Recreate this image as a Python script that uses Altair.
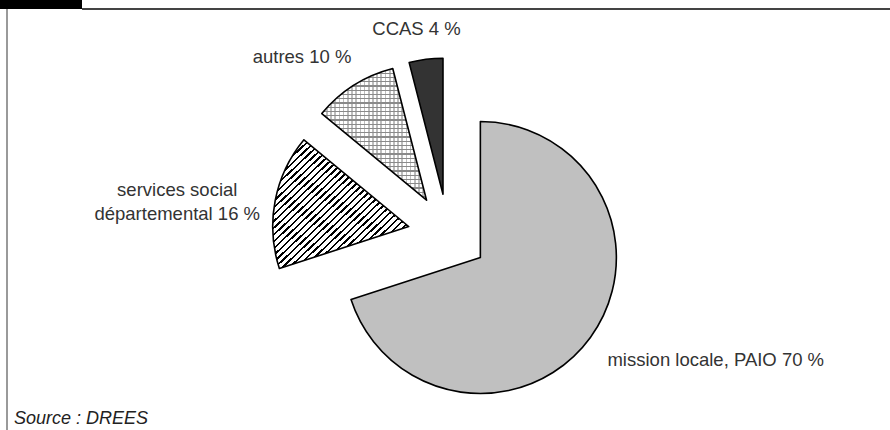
import math
import altair as alt
import pandas as pd

# Exploded pie: who directed the young people (share of answers, %)
names = ["mission locale, PAIO", "services social départemental", "autres", "CCAS"]
labels = ["mission locale, PAIO 70 %", "services social\ndépartemental 16 %", "autres 10 %", "CCAS 4 %"]
shares = [70, 16, 10, 4]
source_note = "Source : DREES"

# fills for each slice (hatched ones get a white base, texture drawn on top)
fills = ["#c0c0c0", "#ffffff", "#ffffff", "#333333"]

W, H = 890, 430
R = 136            # pie radius, px
EXPLODE = 40       # radial shift of every slice, px
LABEL_R = 155      # distance of labels from a slice's centre, px
CX, CY = 3, -19    # pie centre relative to the middle of the view (y up), px
FONT = "Liberation Sans, Arial, sans-serif"
FS = 18.5
CHAR_W = 8.8       # rough average glyph width used to keep labels off the slices
LINE_H = 24

df = pd.DataFrame({"idx": list(range(len(names))), "name": names,
                   "label": labels, "share": shares})

xs = alt.Scale(domain=[-W / 2, W / 2], range=[0, W], nice=False, zero=False)
ys = alt.Scale(domain=[-H / 2, H / 2], range=[H, 0], nice=False, zero=False)
ts = alt.Scale(domain=[0, 100], range=[0, 2 * math.pi])


def stripes(n, line, bg, frac, x2, y2):
    """Linear gradient made of n hard-edged stripes."""
    stops = []
    for i in range(n):
        a, b, c = i / n, (i + frac) / n, (i + 1) / n
        stops += [alt.GradientStop(color=line, offset=a),
                  alt.GradientStop(color=line, offset=b),
                  alt.GradientStop(color=bg, offset=b),
                  alt.GradientStop(color=bg, offset=c)]
    return alt.LinearGradient(gradient="linear", stops=stops,
                              x1=0, y1=0, x2=x2, y2=y2)


base = (
    alt.Chart(df)
    .transform_window(cum="sum(share)", sort=[alt.SortField("idx")], frame=[None, 0])
    .transform_calculate(start="datum.cum - datum.share",
                         mid="(datum.cum - datum.share / 2) * 2 * PI / 100")
    .transform_calculate(cx=f"{CX} + {EXPLODE} * sin(datum.mid)",
                         cy=f"{CY} + {EXPLODE} * cos(datum.mid)")
)

arc_enc = dict(
    theta=alt.Theta("start:Q", scale=ts, stack=None),
    theta2="cum:Q",
    x=alt.X("cx:Q", scale=xs, axis=None),
    y=alt.Y("cy:Q", scale=ys, axis=None),
)

fill_layer = base.mark_arc(radius=R, stroke=None).encode(
    color=alt.Color("name:N", scale=alt.Scale(domain=names, range=fills), legend=None),
    **arc_enc,
)

diag = base.transform_filter(alt.datum.idx == 1).mark_arc(
    radius=R, stroke=None,
    fill=stripes(38, "#000000", "#ffffff", 0.34, 1, 1),
).encode(**arc_enc)

grid_v = base.transform_filter(alt.datum.idx == 2).mark_arc(
    radius=R, stroke=None,
    fill=stripes(25, "#bdbdbd", "#ffffff", 0.4, 1, 0),
).encode(**arc_enc)

grid_h = base.transform_filter(alt.datum.idx == 2).mark_arc(
    radius=R, stroke=None,
    fill=stripes(31, "#8a8a8a", "rgba(255,255,255,0)", 0.28, 0, 1),
).encode(**arc_enc)

outline = base.mark_arc(radius=R, fillOpacity=0, stroke="#000000",
                        strokeWidth=1.6, strokeJoin="round").encode(**arc_enc)

text_base = (
    base.transform_calculate(
        lines="split(datum.label, '\\n')")
    .transform_calculate(
        halfw=f"max(length(datum.lines[0]), length(peek(datum.lines))) * {CHAR_W} / 2",
        halfh=f"length(datum.lines) * {LINE_H} / 2")
    .transform_calculate(
        lx=f"datum.cx + {LABEL_R} * sin(datum.mid) + datum.halfw * clamp(1.6 * sin(datum.mid), -1, 1)",
        ly=f"datum.cy + {LABEL_R} * cos(datum.mid) + datum.halfh * clamp(1.6 * cos(datum.mid), -1, 1)")
)

label_layer = text_base.mark_text(
    font=FONT, fontSize=FS, color="#333333", align="center", baseline="middle",
    lineBreak="\n", lineHeight=LINE_H,
).encode(
    x=alt.X("lx:Q", scale=xs, axis=None),
    y=alt.Y("ly:Q", scale=ys, axis=None),
    text="label:N",
)

one = pd.DataFrame({"k": [0]})

corner = alt.Chart(one).mark_rect(color="#000000").encode(
    x=alt.value(0), x2=alt.value(82), y=alt.value(0), y2=alt.value(9))
top_rule = alt.Chart(one).mark_rule(color="#444444", strokeWidth=2).encode(
    x=alt.value(82), x2=alt.value(W), y=alt.value(9))
left_rule = alt.Chart(one).mark_rule(color="#9a9a9a", strokeWidth=2).encode(
    x=alt.value(7), y=alt.value(9), y2=alt.value(H))
source = alt.Chart(one).mark_text(
    text=source_note, font="Liberation Sans, Arial, sans-serif", fontSize=18,
    fontStyle="italic", color="#222222", align="left", baseline="alphabetic",
).encode(x=alt.value(14), y=alt.value(424))

chart = (
    alt.layer(fill_layer, diag, grid_v, grid_h, outline, label_layer,
              corner, top_rule, left_rule, source)
    .resolve_scale(color="independent")
    .properties(width=W, height=H, padding=0, autosize="none", background="#ffffff")
    .configure_view(stroke=None)
)

chart.save("out.html", embed_options={"renderer": "svg", "actions": False})
